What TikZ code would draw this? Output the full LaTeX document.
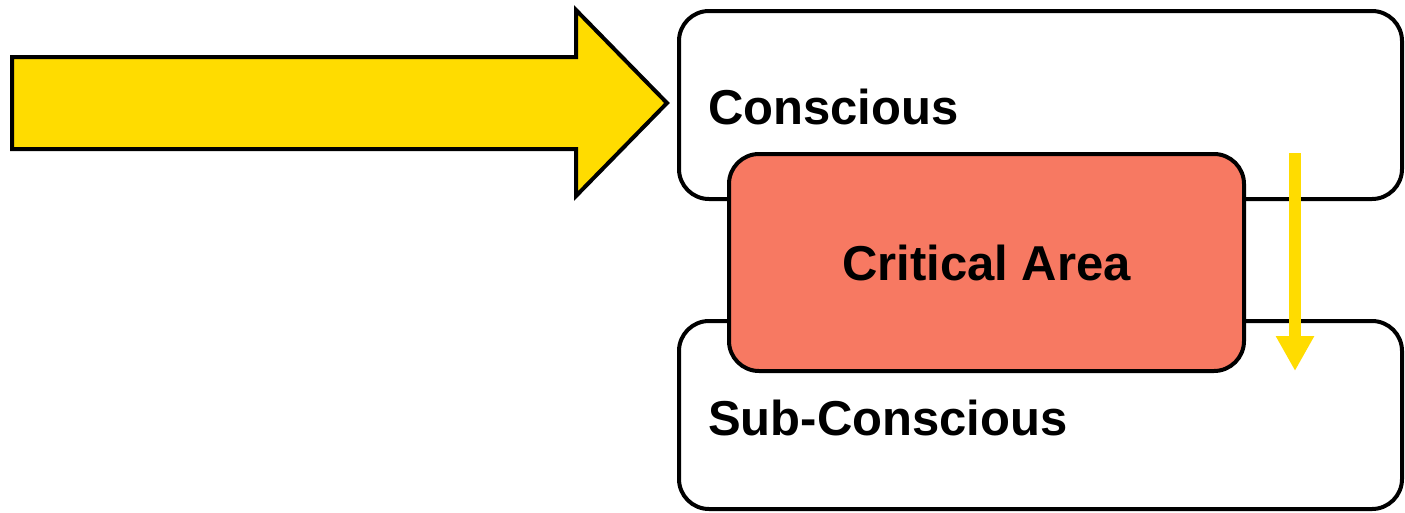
\documentclass[tikz,border=0pt]{standalone}
\usepackage{fontspec}
\setmainfont{Liberation Sans}
\usetikzlibrary{arrows.meta}
\definecolor{yel}{RGB}{255,220,0}
\definecolor{salmon}{RGB}{247,121,98}
\begin{document}
\begin{tikzpicture}[x=1pt,y=-1pt,
  box/.style={draw=black, line width=4pt, rounded corners=30pt, fill=white, inner sep=0pt},
  lab/.style={font=\fontsize{49}{58}\selectfont\bfseries, inner sep=0pt}]
\useasboundingbox (0,0) rectangle (1405,512);
% big input arrow
\draw[line width=4pt, fill=yel, line join=miter]
  (12,57) -- (576,57) -- (576,10) -- (667,103) -- (576,196) -- (576,149) -- (12,149) -- cycle;
% boxes
\node[box, minimum width=723pt, minimum height=188pt] (con) at (1040.5,105) {};
\node[box, minimum width=723pt, minimum height=188pt] (sub) at (1040.5,415) {};
\node[lab, anchor=base west] (conlab) at (708,124) {Conscious};
\node[lab, anchor=base west] (sublab) at (708,435) {Sub-Conscious};
\node[box, fill=salmon, minimum width=515pt, minimum height=217pt] (crit) at (986.5,262.5) {};
\node[lab] (critlab) at (crit.center) {Critical Area};
% thin arrow
\coordinate (ys) at (1295,153);
\coordinate (ye) at (1295,371);
\draw[yel, line width=12pt, -{Triangle[length=35pt,width=36pt]}] (ys) -- (ye);
\end{tikzpicture}
\end{document}
